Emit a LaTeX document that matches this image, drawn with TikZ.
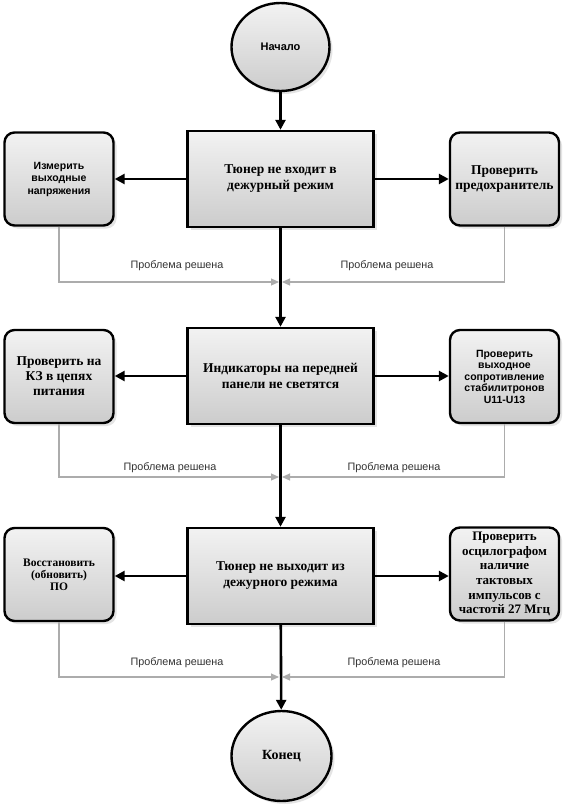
\documentclass[tikz,border=0pt]{standalone}
\usepackage{fontspec}
\setmainfont{Liberation Serif}
\setsansfont{Liberation Sans}
\usetikzlibrary{arrows.meta,shadows,shapes.geometric}
\begin{document}
\begin{tikzpicture}[x=1pt,y=-1pt,
  shapebase/.style={draw=black, line width=2.4pt, top color=gray!10, bottom color=gray!40,
    drop shadow={shadow xshift=3pt, shadow yshift=-3pt, fill=gray!35, opacity=0.6},
    align=center, inner sep=1pt},
  mainbox/.style={shapebase, rectangle, minimum width=186pt, minimum height=96pt,
    font=\fontsize{13.5}{16}\selectfont\bfseries},
  sidebox/.style={shapebase, rectangle, rounded corners=10pt, minimum width=109pt, minimum height=93pt},
  serifbold/.style={font=\fontsize{13.5}{15}\selectfont\bfseries},
  sansbold/.style={font=\fontsize{10.5}{12.5}\selectfont\sffamily\bfseries},
  terminal/.style={shapebase, ellipse, minimum width=98pt, minimum height=88pt},
  mainarrow/.style={draw=black, line width=2.6pt, -{Triangle[length=10pt,width=10pt]}},
  backarrow/.style={draw=gray!65, line width=1.1pt, -{Triangle[length=8pt,width=7pt]}},
  solved/.style={font=\fontsize{10.8}{12}\selectfont\sffamily, text=black!80}
]
\useasboundingbox[fill=white] (0,0) rectangle (570,808);

% terminals
\node[terminal, font=\fontsize{11}{13}\selectfont\sffamily\bfseries] (start) at (280.5,47) {Начало};
\node[terminal, minimum width=100pt, minimum height=90pt, font=\fontsize{14}{16}\selectfont\bfseries] (finish) at (281.5,756) {Конец};

% row 1
\node[mainbox] (c1) at (280.5,179) {Тюнер не входит в\\дежурный режим};
\node[sidebox, sansbold] (l1) at (59,179) {Измерить\\выходные\\напряжения};
\node[sidebox, serifbold] (r1) at (504.5,179) {Проверить\\предохранитель};

% row 2
\node[mainbox] (c2) at (280.5,376) {Индикаторы на передней\\панели не светятся};
\node[sidebox, serifbold] (l2) at (59,376.5) {Проверить на\\КЗ в цепях\\питания};
\node[sidebox, sansbold, font=\fontsize{10.5}{11.5}\selectfont\sffamily\bfseries] (r2) at (504.5,376.5) {Проверить\\выходное\\сопротивление\\стабилитронов\\U11-U13};

% row 3
\node[mainbox] (c3) at (280.5,576) {Тюнер не выходит из\\дежурного режима};
\node[sidebox, font=\fontsize{11.5}{12}\selectfont\bfseries] (l3) at (59,574.5) {Восстановить\\(обновить)\\ПО};
\node[sidebox, font=\fontsize{13}{14.6}\selectfont\bfseries, inner sep=0pt] (r3) at (504.5,574) {Проверить\\осцилографом\\наличие\\тактовых\\импульсов с\\частотй 27 Мгц};

% junction points
\coordinate (m1) at (280.5,282);
\coordinate (m2) at (280.5,477);
\coordinate (m3) at (280.5,677);

% main flow
\draw[mainarrow] (start) -- (c1);
\draw[mainarrow] (c1) -- (c2);
\draw[mainarrow] (c2) -- (c3);
\draw[mainarrow] (c3) -- (finish);

% side arrows (horizontal)
\draw[mainarrow] (c1.west) -- (c1.west -| l1.east);
\draw[mainarrow] (c1.east) -- (c1.east -| r1.west);
\draw[mainarrow] (c2.west) -- (c2.west -| l2.east);
\draw[mainarrow] (c2.east) -- (c2.east -| r2.west);
\draw[mainarrow] (c3.west) -- (c3.west -| l3.east);
\draw[mainarrow] (c3.east) -- (c3.east -| r3.west);

% back connectors
\draw[backarrow] (l1.south) |- ([xshift=-1.5pt]m1);
\draw[backarrow] (r1.south) |- ([xshift=1.5pt]m1);
\draw[backarrow] (l2.south) |- ([xshift=-1.5pt]m2);
\draw[backarrow] (r2.south) |- ([xshift=1.5pt]m2);
\draw[backarrow] (l3.south) |- ([xshift=-1.5pt]m3);
\draw[backarrow] (r3.south) |- ([xshift=1.5pt]m3);

% labels
\node[solved] (s1l) at (177,266) {Проблема решена};
\node[solved] (s1r) at (387,266) {Проблема решена};
\node[solved] (s2l) at (170,468) {Проблема решена};
\node[solved] (s2r) at (394,468) {Проблема решена};
\node[solved] (s3l) at (177,663) {Проблема решена};
\node[solved] (s3r) at (394,663) {Проблема решена};
\end{tikzpicture}
\end{document}
